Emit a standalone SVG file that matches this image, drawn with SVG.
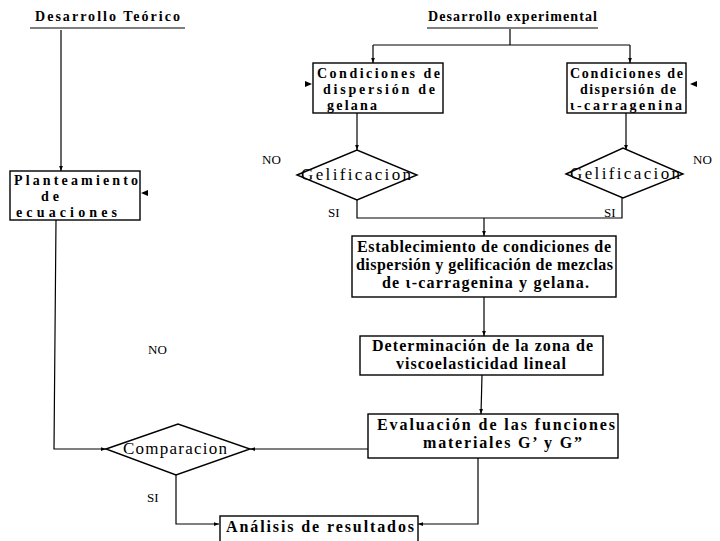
<svg xmlns="http://www.w3.org/2000/svg" width="720" height="541" viewBox="0 0 720 541">
<defs>
<marker id="ah" viewBox="0 0 8 8" refX="8" refY="4" markerWidth="5" markerHeight="5" orient="auto" markerUnits="userSpaceOnUse">
<path d="M0,1 L8,4 L0,7 Z" fill="#000"/>
</marker>
<style>
.box{fill:#fff;stroke:#000;stroke-width:1.4}
.dia{fill:#fff;stroke:#000;stroke-width:1.4}
.ln{fill:none;stroke:#000;stroke-width:1.2}
.lnA{fill:none;stroke:#000;stroke-width:1.2;marker-end:url(#ah)}
.bt{font-family:"Liberation Serif",serif;font-weight:bold;font-size:16px;fill:#000}
.bs{font-family:"Liberation Serif",serif;font-weight:bold;font-size:14px;fill:#000}
.rt{font-family:"Liberation Serif",serif;font-size:17px;fill:#000}
.lb{font-family:"Liberation Serif",serif;font-size:13px;fill:#000}
.hd{font-family:"Liberation Serif",serif;font-weight:bold;font-size:14px;fill:#000}
</style>
</defs>
<rect width="720" height="541" fill="#fff"/>

<g id="connectors">
<line class="ln" x1="30" y1="28" x2="185" y2="28" stroke-width="1.6"/>
<line class="ln" x1="427" y1="28" x2="598" y2="28" stroke-width="1.6"/>
<path class="lnA" d="M61,30 L61,171"/>
<path class="ln" d="M510,29 L510,45 M373,45 L630,45"/>
<path class="lnA" d="M373,45 L373,63"/>
<path class="lnA" d="M630,45 L630,63"/>
<path class="lnA" d="M357,113 L357,150"/>
<path class="lnA" d="M626,113 L626,150"/>
<path class="ln" d="M357,200 L357,218 L622,218 L622,198"/>
<path class="lnA" d="M484,218 L484,236"/>
<path class="lnA" d="M484,297 L484,336"/>
<path class="lnA" d="M482,375 L481,414"/>
<path class="lnA" d="M56,220 L54,449 L106,449"/>
<path class="lnA" d="M368,449 L250,449"/>
<path class="lnA" d="M176,475 L176,524 L219,524"/>
<path class="lnA" d="M478,458 L478,524 L418,524"/>
<path d="M305,81 L312,84 L305,87 Z" fill="#000"/>
<path d="M697,81 L690,84 L697,87 Z" fill="#000"/>
<path d="M148,190 L141,193 L148,196 Z" fill="#000"/>
</g>

<g id="hdr-teorico">
<text class="hd" x="35" y="21" textLength="145">Desarrollo Teórico</text>
</g>
<g id="hdr-experimental">
<text class="hd" x="428" y="21" textLength="169">Desarrollo experimental</text>
</g>

<g id="n-gelana">
<rect class="box" x="313" y="63" width="130" height="50"/>
<text class="bs" x="317" y="78" textLength="123">Condiciones de</text>
<text class="bs" x="323" y="94" textLength="112">dispersión de</text>
<text class="bs" x="327" y="110" textLength="50">gelana</text>
</g>

<g id="n-carragenina">
<rect class="box" x="567" y="63" width="119" height="50"/>
<text class="bs" x="570" y="78" textLength="113">Condiciones de</text>
<text class="bs" x="580" y="94" textLength="96">dispersión de</text>
<text class="bs" x="570" y="110" textLength="112">ι-carragenina</text>
</g>

<g id="d-gel1">
<polygon class="dia" points="297,175 357,150 417,175 357,200"/>
<text class="rt" x="301" y="180" textLength="110">Gelificacion</text>
</g>
<g id="d-gel2">
<polygon class="dia" points="566,174 623,148 683,174 623,198"/>
<text class="rt" x="570" y="179" textLength="110">Gelificacion</text>
</g>

<g id="labels">
<text class="lb" x="262" y="164">NO</text>
<text class="lb" x="693" y="164">NO</text>
<text class="lb" x="328" y="217">SI</text>
<text class="lb" x="604" y="217">SI</text>
<text class="lb" x="148" y="354">NO</text>
<text class="lb" x="147" y="502">SI</text>
</g>

<g id="n-planteamiento">
<rect class="box" x="10" y="171" width="130" height="49"/>
<text class="bs" x="14" y="185" textLength="124">Planteamiento</text>
<text class="bs" x="41" y="201" textLength="18">de</text>
<text class="bs" x="16" y="217" textLength="101">ecuaciones</text>
</g>

<g id="n-establecimiento">
<rect class="box" x="352" y="236" width="264" height="61"/>
<text class="bt" x="357" y="252" textLength="254">Establecimiento de condiciones de</text>
<text class="bt" x="356" y="270" textLength="257">dispersión y gelificación de mezclas</text>
<text class="bt" x="382" y="288" textLength="207">de ι-carragenina y gelana.</text>
</g>

<g id="n-determinacion">
<rect class="box" x="360" y="336" width="243" height="39"/>
<text class="bt" x="372" y="351" textLength="221">Determinación de la zona de</text>
<text class="bt" x="396" y="369" textLength="170">viscoelasticidad lineal</text>
</g>

<g id="n-evaluacion">
<rect class="box" x="368" y="414" width="250" height="44"/>
<text class="bt" x="377" y="430" textLength="238">Evaluación de las funciones</text>
<text class="bt" x="423" y="448" textLength="159">materiales G’ y G”</text>
</g>

<g id="d-comparacion">
<polygon class="dia" points="106,449 178,424 250,449 176,475"/>
<text class="rt" x="123" y="454" textLength="104">Comparacion</text>
</g>

<g id="n-analisis">
<rect class="box" x="220" y="516" width="198" height="40"/>
<text class="bt" x="226" y="532" textLength="188">Análisis de resultados</text>
</g>
</svg>
